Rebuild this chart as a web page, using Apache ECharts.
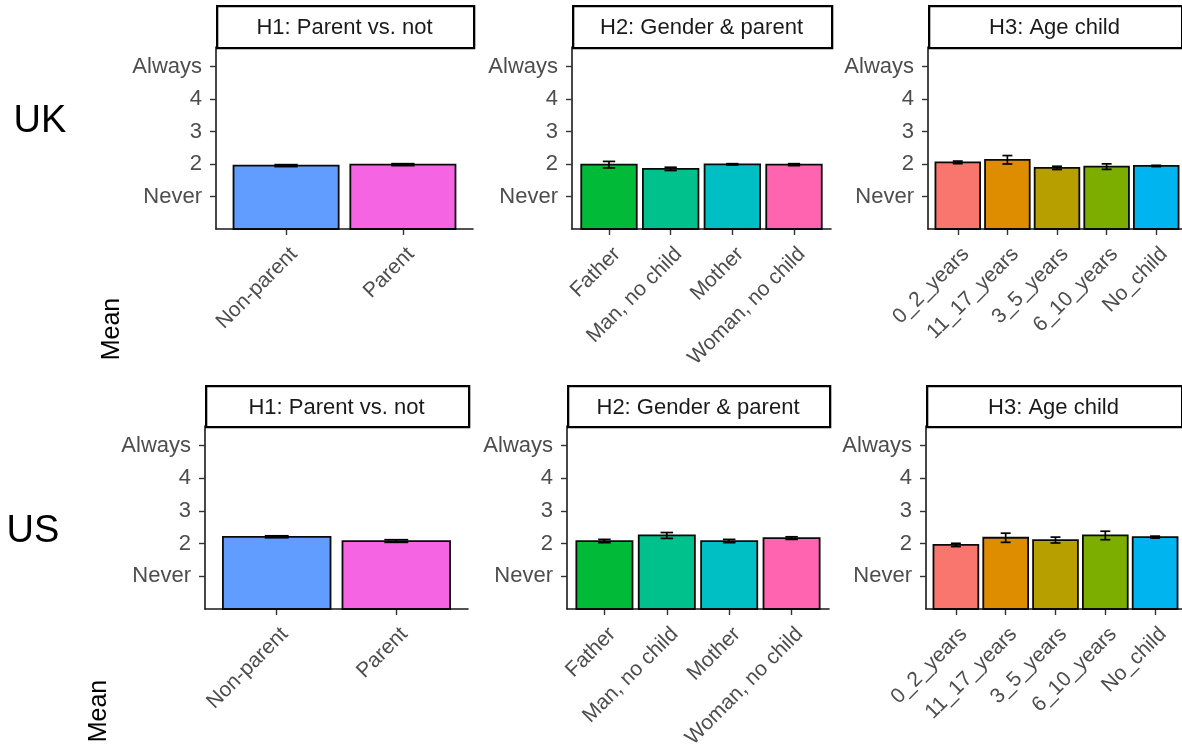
<!DOCTYPE html>
<html><head><meta charset="utf-8">
<script src="https://cdn.jsdelivr.net/npm/echarts@6/dist/echarts.min.js"></script>
<style>html,body{margin:0;padding:0;background:#fff}#c{width:1182px;height:752px}</style>
</head><body><div id="c"></div>
<script>
// ---- data ----
const h1Cats = ['Non-parent', 'Parent'];
const h2Cats = ['Father', 'Man, no child', 'Mother', 'Woman, no child'];
const h3Cats = ['0_2_years', '11_17_years', '3_5_years', '6_10_years', 'No_child'];
const h1Colors = ['#619CFF', '#F564E3'];
const h2Colors = ['#00BA38', '#00C08B', '#00BFC4', '#FF64B0'];
const h3Colors = ['#F8766D', '#DE8C00', '#B79F00', '#7CAE00', '#00B4F0'];

const ukH1Mean = [1.95, 1.98];
const ukH1Err  = [0.03, 0.03];
const ukH2Mean = [1.98, 1.85, 1.99, 1.98];
const ukH2Err  = [0.10, 0.05, 0.02, 0.03];
const ukH3Mean = [2.05, 2.13, 1.88, 1.92, 1.94];
const ukH3Err  = [0.04, 0.13, 0.05, 0.085, 0.02];

const usH1Mean = [2.21, 2.08];
const usH1Err  = [0.03, 0.04];
const usH2Mean = [2.08, 2.25, 2.08, 2.17];
const usH2Err  = [0.05, 0.09, 0.05, 0.04];
const usH3Mean = [1.96, 2.18, 2.11, 2.25, 2.20];
const usH3Err  = [0.05, 0.14, 0.09, 0.13, 0.03];

const yTickValues = [1, 2, 3, 4, 5];
const yTickLabels = ['Never', '2', '3', '4', 'Always'];
const panelTitles = ['H1: Parent vs. not', 'H2: Gender & parent', 'H3: Age child'];
const rowLabels = ['UK', 'US'];
const yAxisTitle = 'Mean';

// ---- layout (pixels) ----
const layout = [
  {left: 216, top: 47, width: 257, height: 182},
  {left: 572, top: 47, width: 259, height: 182},
  {left: 928, top: 47, width: 258, height: 182},
  {left: 205, top: 426, width: 263, height: 183},
  {left: 567, top: 426, width: 262, height: 183},
  {left: 926, top: 426, width: 259, height: 183}
];
const stripH = [42, 41];
const labelShiftPx = 8;

const panels = [
  {cats: h1Cats, colors: h1Colors, mean: ukH1Mean, err: ukH1Err},
  {cats: h2Cats, colors: h2Colors, mean: ukH2Mean, err: ukH2Err},
  {cats: h3Cats, colors: h3Colors, mean: ukH3Mean, err: ukH3Err},
  {cats: h1Cats, colors: h1Colors, mean: usH1Mean, err: usH1Err},
  {cats: h2Cats, colors: h2Colors, mean: usH2Mean, err: usH2Err},
  {cats: h3Cats, colors: h3Colors, mean: usH3Mean, err: usH3Err}
];

const FONT = 'Liberation Sans, Arial, sans-serif';
const grid = [], xAxis = [], yAxis = [], series = [], graphic = [];

panels.forEach((p, i) => {
  const L = layout[i];
  grid.push({left: L.left, top: L.top, width: L.width, height: L.height, containLabel: false, outerBoundsMode: 'none'});
  const n = p.cats.length;
  const ticks = p.cats.map((c, k) => k + 1);
  const shift = labelShiftPx / (L.width / (n + 0.2));
  const labelPos = ticks.map(t => t + shift);
  xAxis.push({
    type: 'value', gridIndex: i, min: 0.4, max: n + 0.6,
    axisLine: {show: true, onZero: false, lineStyle: {color: '#1a1a1a', width: 1.6}},
    axisTick: {show: true, length: 6, customValues: ticks, lineStyle: {color: '#333', width: 1.4}},
    axisLabel: {customValues: labelPos, formatter: v => p.cats[Math.round(v) - 1], rotate: 45,
      fontSize: 21, color: '#4d4d4d', fontFamily: FONT, margin: 22},
    splitLine: {show: false}
  });
  yAxis.push({
    type: 'value', gridIndex: i, min: 0, max: 5.6,
    axisLine: {show: true, onZero: false, lineStyle: {color: '#1a1a1a', width: 1.6}},
    axisTick: {show: true, length: 6, customValues: yTickValues, lineStyle: {color: '#333', width: 1.4}},
    axisLabel: {customValues: yTickValues, formatter: v => yTickLabels[yTickValues.indexOf(Math.round(v))],
      fontSize: 22, color: '#4d4d4d', fontFamily: FONT, margin: 14, padding: [9, 0, 0, 0]},
    splitLine: {show: false}
  });
  const data = p.mean.map((m, k) => [k + 1, m, p.err[k]]);
  series.push({
    type: 'custom', xAxisIndex: i, yAxisIndex: i, data: data, clip: false,
    renderItem: (params, api) => {
      const x = api.value(0), m = api.value(1), e = api.value(2);
      const tl = api.coord([x - 0.45, m]);
      const br = api.coord([x + 0.45, 0]);
      const hi = api.coord([x, m + e]);
      const lo = api.coord([x, m - e]);
      const capL = api.coord([x - 0.1, m])[0];
      const capR = api.coord([x + 0.1, m])[0];
      const ls = {stroke: '#000', lineWidth: 1.7};
      return {
        type: 'group',
        children: [
          {type: 'rect', shape: {x: tl[0], y: tl[1], width: br[0] - tl[0], height: br[1] - tl[1]},
            style: {fill: p.colors[params.dataIndex], stroke: '#0a0a0a', lineWidth: 1.8}},
          {type: 'line', shape: {x1: hi[0], y1: hi[1], x2: lo[0], y2: lo[1]}, style: ls},
          {type: 'line', shape: {x1: capL, y1: hi[1], x2: capR, y2: hi[1]}, style: ls},
          {type: 'line', shape: {x1: capL, y1: lo[1], x2: capR, y2: lo[1]}, style: ls}
        ]
      };
    }
  });
  const row = i < 3 ? 0 : 1;
  const sh = stripH[row];
  const right = Math.min(L.left + L.width, 1181);
  graphic.push({
    type: 'rect', left: L.left, top: L.top - sh, z: 10,
    shape: {width: right - L.left, height: sh},
    style: {fill: '#fff', stroke: '#000', lineWidth: 2.3}
  });
  graphic.push({
    type: 'text', z: 11, x: (L.left + right) / 2, y: L.top - sh / 2 + 2,
    style: {text: panelTitles[i % 3], fill: '#1a1a1a', font: '22px ' + FONT, align: 'center', verticalAlign: 'middle'}
  });
});

graphic.push({type: 'text', x: 40, y: 122, style: {text: rowLabels[0], fill: '#000', font: '38px ' + FONT, align: 'center', verticalAlign: 'middle'}});
graphic.push({type: 'text', x: 33, y: 532, style: {text: rowLabels[1], fill: '#000', font: '38px ' + FONT, align: 'center', verticalAlign: 'middle'}});
graphic.push({type: 'text', x: 112, y: 329, rotation: Math.PI / 2, style: {text: yAxisTitle, fill: '#000', font: '25px ' + FONT, align: 'center', verticalAlign: 'middle'}});
graphic.push({type: 'text', x: 99, y: 711, rotation: Math.PI / 2, style: {text: yAxisTitle, fill: '#000', font: '25px ' + FONT, align: 'center', verticalAlign: 'middle'}});

const chart = echarts.init(document.getElementById('c'), null, {renderer: 'canvas'});
chart.setOption({
  backgroundColor: '#fff',
  animation: false,
  grid, xAxis, yAxis, series, graphic
});
</script></body></html>
